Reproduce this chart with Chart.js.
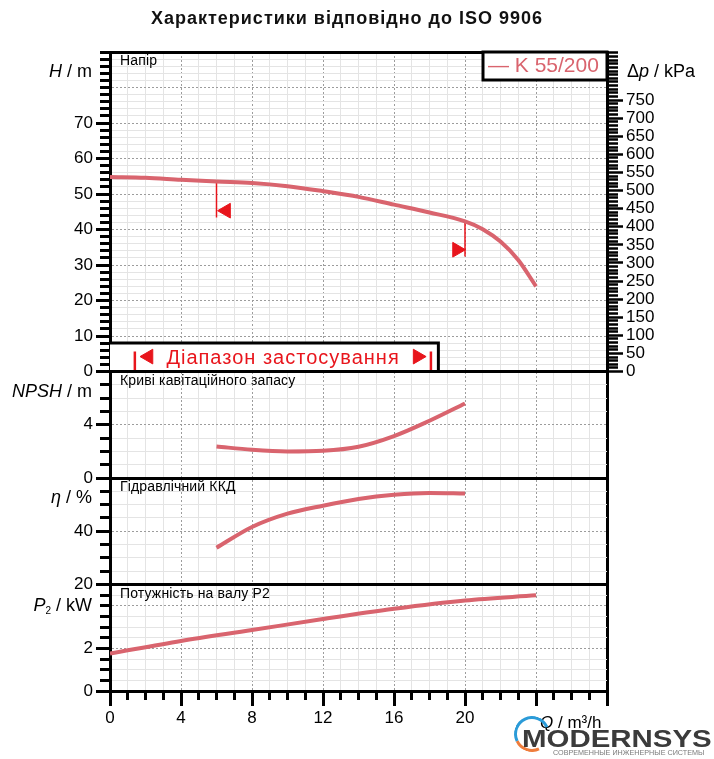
<!DOCTYPE html>
<html lang="uk">
<head>
<meta charset="utf-8">
<title>Характеристики відповідно до ISO 9906</title>
<script src="https://cdn.jsdelivr.net/npm/chart.js@4.4.1/dist/chart.umd.min.js"></script>
<style>
  html, body { margin: 0; padding: 0; background: #fff; }
  #page { position: relative; width: 714px; height: 759px; overflow: hidden; font-family: "Liberation Sans", Arial, sans-serif; }
  #chart { position: absolute; left: 0; top: 0; }
  #title { position: absolute; left: 0; top: 8px; width: 694px; text-align: center; font-weight: bold; font-size: 18px; letter-spacing: 1px; color: #111; }
  #logo-ring { position: absolute; left: 514px; top: 716px; width: 30px; height: 30px; border-radius: 50%; border: 3px solid transparent; border-top-color: #2b9bd8; border-left-color: #2b9bd8; border-bottom-color: #ef7d3c; transform: rotate(20deg); }
  #logo-name { position: absolute; left: 522px; top: 726px; font-size: 23px; font-weight: bold; color: #3b3b3b; transform: scaleX(1.28); transform-origin: left top; white-space: nowrap; }
  #logo-sub { position: absolute; left: 553px; top: 748px; font-size: 8px; color: #7a7a7a; transform: scaleX(0.9); transform-origin: left top; white-space: nowrap; }
</style>
</head>
<body>
<div id="page">
  <canvas id="chart" width="714" height="759"></canvas>
  <div id="title">Характеристики відповідно до ISO 9906</div>
  <div id="logo-ring"></div>
  <div id="logo-name">MODERNSYS</div>
  <div id="logo-sub">СОВРЕМЕННЫЕ ИНЖЕНЕРНЫЕ СИСТЕМЫ</div>
</div>
<script>
/**
 * Pump curves K 55/200 (ISO 9906)
 */

// Flow Q / m³/h
const flowTicks = [0, 4, 8, 12, 16, 20];

// Head H / m
const headFlow = [0, 2, 4, 6, 8, 10, 12, 14, 16, 18, 20, 21, 22, 23, 24];
const headValues = [54.8, 54.6, 54.0, 53.5, 53.1, 52.2, 50.8, 49.2, 47.0, 44.8, 42.3, 40.1, 36.6, 31.4, 24.0];
const headTicks = [0, 10, 20, 30, 40, 50, 60, 70];
const pressureTicks = [0, 50, 100, 150, 200, 250, 300, 350, 400, 450, 500, 550, 600, 650, 700, 750];

// NPSH / m
const npshFlow = [6, 8, 10, 12, 14, 16, 18, 20];
const npshValues = [2.37, 2.12, 2.0, 2.05, 2.35, 3.15, 4.3, 5.6];
const npshTicks = [0, 4];

// Hydraulic efficiency / %
const effFlow = [6, 8, 10, 12, 14, 16, 18, 20];
const effValues = [33.8, 41.6, 46.6, 49.6, 52.1, 53.7, 54.4, 54.2];
const effTicks = [20, 40];

// Shaft power P2 / kW
const powerFlow = [0, 4, 8, 12, 16, 20, 24];
const powerValues = [1.76, 2.35, 2.86, 3.38, 3.86, 4.25, 4.49];
const powerTicks = [0, 2];

// Duty limits marked on the head curve
const dutyFlow = [6, 20];
const dutyTop = [53.5, 42.3];
const dutyBottom = [43.4, 32.4];
const dutyArrowFlow = [6.54, 19.55];
const dutyArrowHead = [45.3, 34.3];

// Application range
const rangeFlow = [1.4, 18.08];
const rangeArrowFlow = [2.17, 17.33];
const rangeBox = [18.5, 8];

const KPA_PER_M = 9.81;
const HEAD_MAX = 90;

const FONT = '"Liberation Sans", Arial, sans-serif';
const CURVE = '#d9646e';
const RED = '#e8151c';
const GRID_MAJOR = '#9c9c9c';
const GRID_MINOR = '#e4e4e4';

function points(xs, ys) {
  return xs.map((x, i) => ({ x, y: ys[i] }));
}

function isEdge(c, min, max) {
  return c.tick && (c.tick.value === min || c.tick.value === max);
}

function gridColor(c, min, max, major) {
  if (!c.tick) return GRID_MINOR;
  if (isEdge(c, min, max)) return '#000';
  return c.tick.value % major === 0 ? GRID_MAJOR : GRID_MINOR;
}

function gridDash(c, min, max, major) {
  if (!c.tick || isEdge(c, min, max)) return [];
  return c.tick.value % major === 0 ? [2, 2] : [];
}

/**
 * One stacked panel axis on the left
 */
function panelAxis({ min, max, step, major, labels, weight, stackWeight }) {
  return {
    type: 'linear',
    position: 'left',
    stack: 'left',
    stackWeight,
    weight,
    min,
    max,
    afterFit: (scale) => {
      scale.width = 110;
    },
    ticks: {
      stepSize: step,
      autoSkip: false,
      padding: 3,
      color: '#000',
      font: { family: FONT, size: 17 },
      callback: (v) => (labels.includes(v) ? String(v) : ''),
    },
    grid: {
      color: (c) => gridColor(c, min, max, major),
      lineWidth: (c) => (isEdge(c, min, max) ? 3 : 1),
      tickColor: '#000',
      tickWidth: 3,
      tickLength: 14,
      // left ticks are stroked from the outer end, so skip 4px before the short mark
      tickBorderDash: (c) => (c.tick && labels.includes(c.tick.value) ? [] : [0, 4, 10, 40]),
    },
    border: { color: '#000', width: 3, dash: (c) => gridDash(c, min, max, major) },
  };
}

function curve(label, xs, ys, axis) {
  return {
    label,
    data: points(xs, ys),
    yAxisID: axis,
    borderColor: CURVE,
    borderWidth: 4,
    pointRadius: 0,
    cubicInterpolationMode: 'monotone',
    fill: false,
  };
}

function redLine(x, yTop, yBottom, width) {
  return {
    data: [{ x, y: yTop }, { x, y: yBottom }],
    yAxisID: 'yHead',
    borderColor: RED,
    borderWidth: width,
    pointRadius: 0,
    fill: false,
  };
}

function arrows(xs, ys, rotations) {
  return {
    data: points(xs, ys),
    yAxisID: 'yHead',
    showLine: false,
    pointStyle: 'triangle',
    pointRadius: 8.5,
    pointRotation: rotations,
    pointBackgroundColor: RED,
    pointBorderColor: RED,
    pointBorderWidth: 1,
  };
}

function drawName(ctx, parts, x, y, alignRight) {
  const fontOf = (p) => `${p.italic ? 'italic ' : ''}${p.size || 18}px ${FONT}`;
  let total = 0;
  parts.forEach((p) => {
    ctx.font = fontOf(p);
    p.w = ctx.measureText(p.t).width;
    total += p.w;
  });
  let cx = alignRight ? x - total : x;
  parts.forEach((p) => {
    ctx.font = fontOf(p);
    ctx.fillText(p.t, cx, y + (p.dy || 0));
    cx += p.w;
  });
}

/**
 * Captions, axis names, legend box and range text
 */
const curveNotes = {
  id: 'curveNotes',
  afterDraw(chart) {
    const { ctx, chartArea, scales } = chart;
    ctx.save();
    ctx.textAlign = 'left';
    ctx.textBaseline = 'alphabetic';
    ctx.fillStyle = '#000';

    // Panel captions
    ctx.font = `14px ${FONT}`;
    ctx.letterSpacing = '0.15px';
    [
      ['yHead', 'Напір'],
      ['yNpsh', 'Криві кавітаційного запасу'],
      ['yEff', 'Гідравлічний ККД'],
      ['yPower', 'Потужність на валу P2'],
    ].forEach(([id, text]) => ctx.fillText(text, chartArea.left + 10, scales[id].top + 13));
    ctx.letterSpacing = '0px';

    // Axis names
    const nameX = chartArea.left - 18;
    drawName(ctx, [{ t: 'H', italic: true }, { t: ' / m' }], nameX, scales.yHead.top + 25, true);
    drawName(ctx, [{ t: 'NPSH', italic: true }, { t: ' / m' }], nameX, scales.yNpsh.top + 25, true);
    drawName(ctx, [{ t: 'η', italic: true }, { t: ' / %' }], nameX, scales.yEff.top + 25, true);
    drawName(ctx, [{ t: 'P', italic: true }, { t: '2', size: 10, dy: 3 }, { t: ' / kW' }], nameX, scales.yPower.top + 26, true);
    drawName(ctx, [{ t: 'Δ' }, { t: 'p', italic: true }, { t: ' / kPa' }], chartArea.right + 20, scales.yHead.top + 25, false);
    drawName(ctx, [{ t: 'Q', italic: true, size: 17 }, { t: ' / m³/h', size: 17 }], scales.x.getPixelForValue(24) + 4, scales.x.top + 37, false);

    // Legend box
    const label = chart.data.datasets[0].label;
    const boxW = 124;
    const boxH = 28;
    const bx = chartArea.right - boxW;
    const by = chartArea.top;
    ctx.fillStyle = '#fff';
    ctx.fillRect(bx, by, boxW, boxH);
    ctx.lineWidth = 3;
    ctx.strokeStyle = '#000';
    ctx.strokeRect(bx, by, boxW, boxH);
    ctx.fillStyle = CURVE;
    ctx.font = `21px ${FONT}`;
    ctx.fillText('— ' + label, bx + 5, by + 20);

    // Application range text
    const x = scales.x;
    const cx = (x.getPixelForValue(rangeArrowFlow[0]) + x.getPixelForValue(rangeArrowFlow[1])) / 2;
    ctx.fillStyle = RED;
    ctx.font = `20px ${FONT}`;
    ctx.letterSpacing = '1px';
    ctx.textAlign = 'center';
    ctx.fillText('Діапазон застосування', cx, scales.yHead.getPixelForValue(2.1));
    ctx.restore();
  },
};

const datasets = [
  curve('K 55/200', headFlow, headValues, 'yHead'),
  curve('NPSH', npshFlow, npshValues, 'yNpsh'),
  curve('ККД', effFlow, effValues, 'yEff'),
  curve('P2', powerFlow, powerValues, 'yPower'),
  redLine(dutyFlow[0], dutyTop[0], dutyBottom[0], 1.5),
  redLine(dutyFlow[1], dutyTop[1], dutyBottom[1], 1.5),
  arrows(dutyArrowFlow, dutyArrowHead, [270, 90]),
  redLine(rangeFlow[0], 5.6, 0.4, 2.5),
  redLine(rangeFlow[1], 5.6, 0.4, 2.5),
  arrows(rangeArrowFlow, [4.2, 4.2], [270, 90]),
  {
    // application range box
    data: [{ x: 0, y: rangeBox[1] }, { x: rangeBox[0], y: rangeBox[1] }, { x: rangeBox[0], y: 0 }],
    yAxisID: 'yHead',
    borderColor: '#000',
    borderWidth: 3,
    pointRadius: 0,
    fill: { value: 0.45 },
    backgroundColor: '#fff',
  },
];

new Chart(document.getElementById('chart'), {
  type: 'line',
  data: { datasets },
  options: {
    responsive: false,
    animation: false,
    events: [],
    layout: { padding: { top: 52, bottom: 28, left: 0, right: 0 } },
    plugins: {
      legend: { display: false },
      tooltip: { enabled: false },
    },
    scales: {
      x: {
        type: 'linear',
        min: 0,
        max: 28,
        afterFit: (scale) => {
          scale.height = 40;
        },
        ticks: {
          stepSize: 1,
          autoSkip: false,
          maxRotation: 0,
          padding: 2,
          color: '#000',
          font: { family: FONT, size: 17 },
          callback: (v) => (flowTicks.includes(v) ? String(v) : ''),
        },
        grid: {
          color: (c) => gridColor(c, 0, 28, 4),
          lineWidth: (c) => (isEdge(c, 0, 28) ? 3 : 1),
          tickColor: '#000',
          tickWidth: 3,
          tickLength: 15,
          tickBorderDash: (c) => (c.tick && c.tick.value % 4 === 0 ? [] : [7, 40]),
        },
        border: { color: '#000', width: 3, dash: (c) => gridDash(c, 0, 28, 4) },
      },
      yHead: panelAxis({ min: 0, max: HEAD_MAX, step: 2, major: 10, labels: headTicks, weight: 4, stackWeight: 3 }),
      yNpsh: panelAxis({ min: 0, max: 8, step: 1, major: 4, labels: npshTicks, weight: 3, stackWeight: 1 }),
      yEff: panelAxis({ min: 20, max: 60, step: 5, major: 20, labels: effTicks, weight: 2, stackWeight: 1 }),
      yPower: panelAxis({ min: 0, max: 5, step: 0.5, major: 2, labels: powerTicks, weight: 1, stackWeight: 1 }),
      pressure: {
        type: 'linear',
        position: 'right',
        stack: 'right',
        stackWeight: 3,
        weight: 1,
        min: 0,
        max: HEAD_MAX * KPA_PER_M,
        afterFit: (scale) => {
          scale.width = 107;
        },
        ticks: {
          stepSize: 10,
          autoSkip: false,
          padding: 3,
          color: '#000',
          font: { family: FONT, size: 17 },
          callback: (v) => (pressureTicks.includes(v) ? String(v) : ''),
        },
        grid: {
          drawOnChartArea: false,
          tickColor: '#000',
          tickWidth: 2.5,
          tickLength: 16,
          tickBorderDash: (c) => (c.tick && pressureTicks.includes(c.tick.value) ? [] : [9, 40]),
        },
        border: { color: '#000', width: 3 },
      },
      pressureSpacer: {
        type: 'linear',
        position: 'right',
        stack: 'right',
        stackWeight: 3,
        weight: 2,
        min: 0,
        max: 1,
        afterFit: (scale) => {
          scale.width = 107;
        },
        ticks: { display: false },
        grid: { display: false },
        border: { display: false },
      },
    },
  },
  plugins: [curveNotes],
});
</script>
</body>
</html>
